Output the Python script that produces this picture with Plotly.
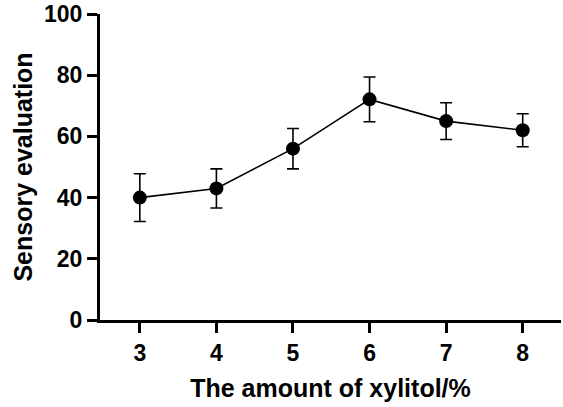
import plotly.graph_objects as go

xylitol = [3, 4, 5, 6, 7, 8]
sensory_mean = [40.0, 43.0, 56.0, 72.1, 65.0, 62.0]
sensory_err = [7.8, 6.4, 6.6, 7.3, 6.0, 5.4]
x_ticks = [3, 4, 5, 6, 7, 8]
y_ticks = [0, 20, 40, 60, 80, 100]

FONT = "Liberation Sans, Arial, sans-serif"

fig = go.Figure()
fig.add_trace(go.Scatter(
    x=xylitol, y=sensory_mean,
    mode="lines+markers",
    line=dict(color="black", width=1.6),
    marker=dict(color="black", size=14),
    error_y=dict(type="data", array=sensory_err, visible=True,
                 color="black", thickness=1.6, width=6),
    showlegend=False,
))

fig.update_layout(
    width=563, height=407,
    margin=dict(l=100, r=2, t=14, b=87, autoexpand=False),
    plot_bgcolor="white", paper_bgcolor="white",
    font=dict(family=FONT, color="black", size=22, weight=700),
    xaxis=dict(
        range=[2.48, 8.5], tickvals=x_ticks, ticktext=[str(v) for v in x_ticks],
        showline=True, linecolor="black", linewidth=3,
        ticks="outside", ticklen=10, tickwidth=3, tickcolor="black",
        showgrid=False, zeroline=False,
        tickfont=dict(size=23, family=FONT, weight=700),
        title=dict(text="The amount of xylitol/%", standoff=15,
                   font=dict(size=25, family=FONT, weight=700)),
        automargin=False,
    ),
    yaxis=dict(
        range=[0, 100], tickvals=y_ticks, ticktext=[str(v) for v in y_ticks],
        showline=True, linecolor="black", linewidth=3,
        ticks="outside", ticklen=10, tickwidth=3, tickcolor="black",
        showgrid=False, zeroline=False,
        tickfont=dict(size=23, family=FONT, weight=700),
        title=dict(text="Sensory evaluation", standoff=5,
                   font=dict(size=25, family=FONT, weight=700)),
        automargin=False,
    ),
)

fig.write_html("out.html")
